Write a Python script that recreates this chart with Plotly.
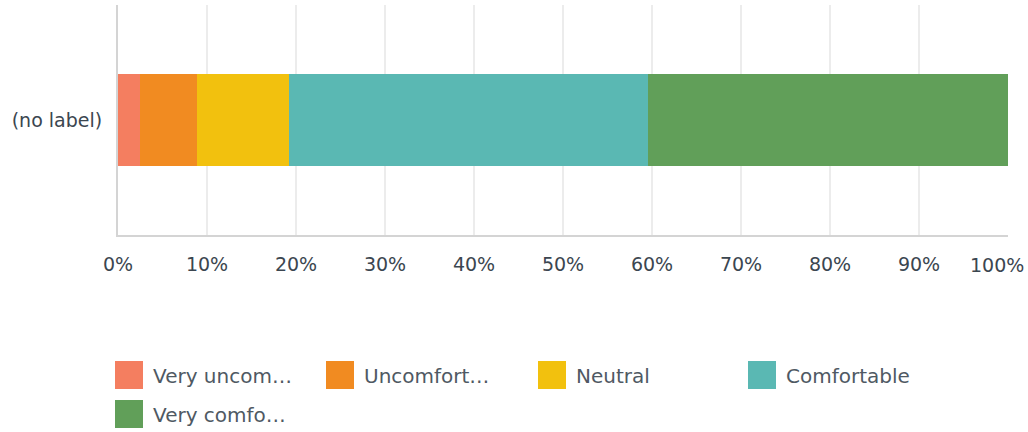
import plotly.graph_objects as go

categories = ["(no label)"]
series_names = ["Very uncomfortable", "Uncomfortable", "Neutral", "Comfortable", "Very comfortable"]
legend_labels = ["Very uncom…", "Uncomfort…", "Neutral", "Comfortable", "Very comfo…"]
values = [2.47, 6.42, 10.36, 40.32, 40.43]
colors = ["#F47E60", "#F18B21", "#F2C10E", "#5AB8B3", "#619F59"]
tick_vals = [0, 10, 20, 30, 40, 50, 60, 70, 80, 90]
tick_text = ["0%", "10%", "20%", "30%", "40%", "50%", "60%", "70%", "80%", "90%"]
last_tick_val = 100
last_tick_text = "100%"

W, H = 1028, 432
ML, MR, MT, MB = 118, 20, 5, 197
PW, PH = W - ML - MR, H - MT - MB
FONT = "DejaVu Sans"
TXT = "#3B4650"
LEG_TXT = "#4F5963"
FS = 19
LFS = 20

fig = go.Figure()
for name, v, c in zip(series_names, values, colors):
    fig.add_trace(go.Bar(y=categories, x=[v], name=name, orientation="h",
                         marker=dict(color=c, line=dict(width=0)),
                         showlegend=False, hovertemplate=name + ": %{x:.2f}%<extra></extra>"))

def px_x(px):
    return (px - ML) / PW

def px_y(py):
    return (H - MB - py) / PH

# custom legend (layout decoration)
leg_pos = [(115, 361), (326, 361), (538, 361), (748, 361), (115, 400)]
shapes = []
annotations = []
for (lx, ly), lab, c in zip(leg_pos, legend_labels, colors):
    shapes.append(dict(type="rect", xref="paper", yref="paper",
                       x0=px_x(lx), x1=px_x(lx + 28), y0=px_y(ly), y1=px_y(ly + 28),
                       fillcolor=c, line=dict(width=0), layer="above"))
    annotations.append(dict(text=lab, xref="paper", yref="paper",
                            x=px_x(lx + 36), y=px_y(ly + 15), xanchor="left", yanchor="middle",
                            showarrow=False,
                            font=dict(family=FONT, size=LFS, color=LEG_TXT)))

# last tick label, pulled in so it stays inside the page
annotations.append(dict(text=last_tick_text, xref="x", yref="paper", x=last_tick_val,
                        y=px_y(265), xanchor="center", yanchor="middle", xshift=-11,
                        showarrow=False, font=dict(family=FONT, size=FS, color=TXT)))

fig.update_layout(
    width=W, height=H,
    margin=dict(l=ML, r=MR, t=MT, b=MB, pad=0),
    barmode="stack", bargap=0.6,
    plot_bgcolor="white", paper_bgcolor="white",
    font=dict(family=FONT, size=FS, color=TXT),
    shapes=shapes, annotations=annotations,
    xaxis=dict(range=[0, 100], tickvals=tick_vals + [last_tick_val], ticktext=tick_text + [""],
               showgrid=True, gridcolor="#ECECEC", gridwidth=2,
               showline=True, linecolor="#D4D4D4", linewidth=2, automargin=False,
               zeroline=False, ticks="", ticklabelstandoff=11, ticklabeloverflow="allow",
               tickfont=dict(family=FONT, size=FS, color=TXT), fixedrange=True),
    yaxis=dict(showgrid=False, showline=True, linecolor="#D4D4D4", linewidth=2,
               ticks="", ticklabelstandoff=10, zeroline=False, automargin=False,
               tickfont=dict(family=FONT, size=FS, color=TXT), fixedrange=True),
)

fig.write_html("out.html", config={"displayModeBar": False},
               post_script="document.body.style.margin='0';")
